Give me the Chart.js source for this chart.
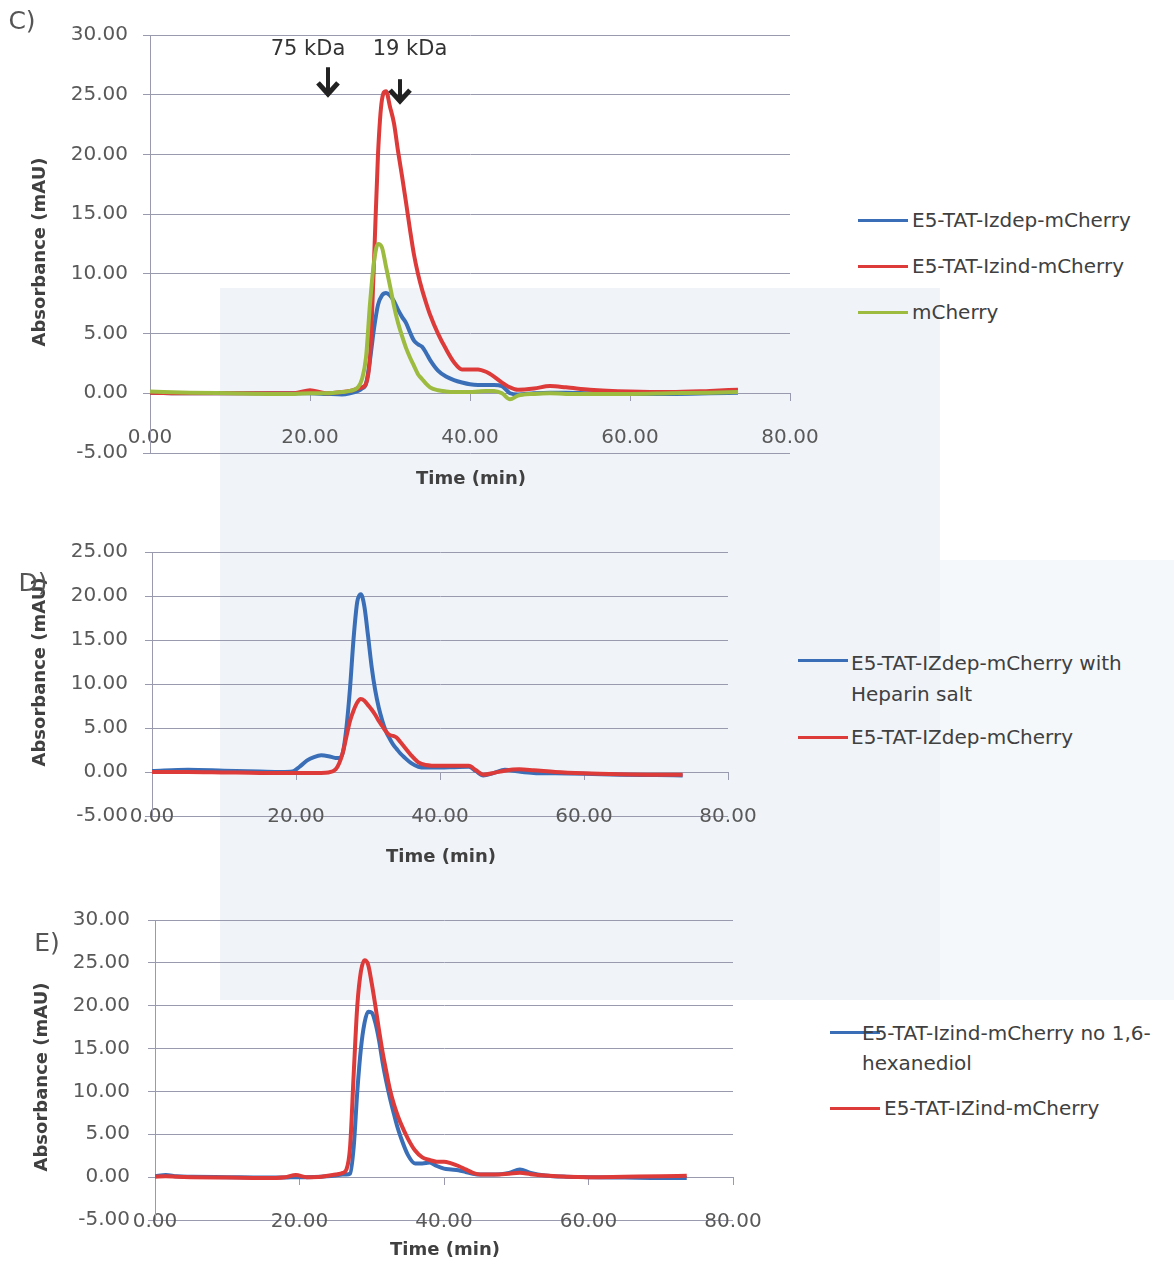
<!DOCTYPE html>
<html>
<head>
<meta charset="utf-8">
<title>Size exclusion chromatograms</title>
<script src="https://cdn.jsdelivr.net/npm/chart.js@4.4.1/dist/chart.umd.min.js"></script>
<style>
  body { margin: 0; background: #fff; width: 1174px; height: 1262px; position: relative; overflow: hidden; font-family: "DejaVu Sans", sans-serif; }
  canvas { position: absolute; left: 0; }
  .tint { position: absolute; }
  .key { position: absolute; height: 3px; width: 50px; }
  .lbl { position: absolute; font-size: 20px; line-height: 24px; color: #404040; white-space: nowrap; }
  .txt { position: absolute; white-space: nowrap; transform: translate(-50%, -50%); }
  .axt { font-weight: bold; font-size: 18px; color: #404040; }
  .rot { transform: translate(-50%, -50%) rotate(-90deg); }
  .panel { font-size: 25px; color: #555; }
  .kda { font-size: 21px; color: #333; }
</style>
</head>
<body>

<!-- faint scan tint behind the lower panels -->
<div class="tint" style="left:220px; top:288px; width:720px; height:712px; background:#f0f4f9;"></div>
<div class="tint" style="left:940px; top:560px; width:234px; height:440px; background:#f5f8fb;"></div>

<canvas id="chartC" width="830" height="480" style="top:0px;"></canvas>
<canvas id="chartD" width="770" height="345" style="top:500px;"></canvas>
<canvas id="chartE" width="775" height="370" style="top:880px;"></canvas>

<!-- panel C text -->
<div class="txt panel" style="left:22px; top:20px;">C)</div>
<div class="txt kda" style="left:308px; top:48px;">75 kDa</div>
<div class="txt kda" style="left:410px; top:48px;">19 kDa</div>
<div class="txt axt" style="left:471px; top:477px;">Time (min)</div>
<div class="txt axt rot" style="left:38px; top:252px;">Absorbance (mAU)</div>

<div class="key" style="left:858px; top:219px; background:#3a6fb7;"></div>
<div class="lbl" style="left:912px; top:208px;">E5-TAT-Izdep-mCherry</div>
<div class="key" style="left:858px; top:265px; background:#dd3a3a;"></div>
<div class="lbl" style="left:912px; top:254px;">E5-TAT-Izind-mCherry</div>
<div class="key" style="left:858px; top:311px; background:#9cbb3f;"></div>
<div class="lbl" style="left:912px; top:300px;">mCherry</div>

<!-- panel D text -->
<div class="txt axt" style="left:441px; top:855px;">Time (min)</div>
<div class="txt axt rot" style="left:38px; top:672px;">Absorbance (mAU)</div>
<div class="txt panel" style="left:33px; top:582px;">D)</div>

<div class="key" style="left:798px; top:659px; background:#3a6fb7;"></div>
<div class="lbl" style="left:851px; top:648px; line-height:31px;">E5-TAT-IZdep-mCherry with<br>Heparin salt</div>
<div class="key" style="left:798px; top:736px; background:#dd3a3a;"></div>
<div class="lbl" style="left:851px; top:725px;">E5-TAT-IZdep-mCherry</div>

<!-- panel E text -->
<div class="txt axt" style="left:445px; top:1248px;">Time (min)</div>
<div class="txt axt rot" style="left:40px; top:1077px;">Absorbance (mAU)</div>
<div class="txt panel" style="left:47px; top:942px;">E)</div>

<div class="key" style="left:830px; top:1031px; background:#3a6fb7;"></div>
<div class="lbl" style="left:862px; top:1018px; line-height:30px;">E5-TAT-Izind-mCherry no 1,6-<br>hexanediol</div>
<div class="key" style="left:830px; top:1107px; background:#dd3a3a;"></div>
<div class="lbl" style="left:884px; top:1096px;">E5-TAT-IZind-mCherry</div>

<script>
// Chromatogram traces (time in min, absorbance in mAU)

// Panel C
const timeC = [0, 5, 10, 15, 18, 20, 22, 24, 25, 26, 26.5, 27, 27.5, 28, 28.5, 29, 29.5, 30, 30.5, 31,
    31.5, 32, 32.5, 33, 33.5, 34, 34.5, 35, 36, 37, 38, 39, 40, 41, 42, 43, 44, 45, 46, 48,
    50, 52, 55, 60, 65, 70, 73.5];
const izdepC = [0.05, 0, 0, 0, 0, 0, -0.05, -0.1, 0, 0.2, 0.4, 0.8, 2.8, 5.4, 7.4, 8.2, 8.4, 8.2, 7.7, 7.0,
    6.4, 5.9, 5.1, 4.4, 4.1, 3.9, 3.4, 2.8, 1.9, 1.4, 1.1, 0.9, 0.75, 0.7, 0.7, 0.7, 0.6, 0.0, -0.1, 0,
    0.05, 0.05, 0, -0.05, -0.05, 0, 0.05];
const izindC = [0.05, 0, 0, 0, 0, 0.25, 0, 0.1, 0.2, 0.4, 0.5, 0.8, 3.0, 11.0, 20.0, 24.6, 25.3, 24.0, 22.6, 20.3,
    18.2, 16.0, 13.7, 11.6, 10.0, 8.7, 7.6, 6.6, 5.0, 3.7, 2.6, 2.0, 2.0, 2.0, 1.8, 1.4, 0.9, 0.5, 0.3, 0.4,
    0.6, 0.5, 0.3, 0.15, 0.1, 0.2, 0.3];
const mcherryC = [0.15, 0.05, 0, -0.05, -0.05, 0, 0, 0.1, 0.2, 0.5, 1.2, 3.0, 7.5, 11.0, 12.5, 12.2, 10.6, 9.0, 7.3, 5.9,
    4.8, 3.8, 3.0, 2.3, 1.6, 1.2, 0.8, 0.5, 0.25, 0.15, 0.1, 0.1, 0.1, 0.15, 0.2, 0.2, 0.0, -0.5, -0.2, -0.05,
    0, -0.05, -0.05, -0.05, 0, 0.05, 0.1];
// size-marker arrows (time, arrow top, arrow tip)
const markerTime = [22.25, 31.25];
const markerTop = [27.3, 26.3];
const markerTip = [24.9, 24.3];

// Panel D
const timeD = [0, 5, 10, 15, 18, 19.5, 20.5, 21.5, 22.5, 23.5, 24.5, 25.5, 26, 26.5, 27, 27.5, 28, 28.5, 29, 29.5,
    30, 30.5, 31, 31.5, 32, 32.5, 33, 33.5, 34, 34.5, 35, 36, 37, 38, 40, 42, 44, 45, 46, 47.5,
    49, 51, 53, 56, 60, 65, 70, 73.7];
const heparinD = [0.1, 0.25, 0.15, 0.05, 0, 0.05, 0.6, 1.3, 1.7, 1.9, 1.8, 1.6, 1.6, 2.2, 5.0, 9.5, 15.2, 19.3, 20.2, 18.8,
    15.5, 12.0, 9.3, 7.3, 5.8, 4.6, 3.8, 3.1, 2.6, 2.1, 1.7, 1.0, 0.6, 0.5, 0.5, 0.55, 0.6, 0.1, -0.4, -0.1,
    0.25, 0.05, -0.1, -0.15, -0.2, -0.3, -0.35, -0.4];
const izdepD = [0, 0, -0.05, -0.1, -0.1, -0.1, -0.1, -0.1, -0.1, -0.1, -0.05, 0.3, 1.0, 2.2, 4.0, 5.8, 7.0, 7.9, 8.3, 8.1,
    7.6, 7.1, 6.5, 5.8, 5.2, 4.6, 4.2, 4.1, 3.9, 3.4, 2.9, 1.9, 1.1, 0.8, 0.7, 0.7, 0.7, 0.2, -0.3, -0.1,
    0.15, 0.3, 0.2, 0, -0.15, -0.25, -0.3, -0.3];

// Panel E
const timeE = [0, 1.5, 3, 5, 10, 15, 18, 19.5, 21, 23, 25, 26, 26.5, 27, 27.5, 28, 28.5, 29, 29.5, 30,
    30.5, 31, 31.5, 32, 32.5, 33, 33.5, 34, 35, 36, 37, 38, 39, 40, 41, 42, 43, 44, 45, 47,
    49, 50.5, 52, 54, 57, 60, 65, 70, 73.6];
const noHexE = [0.1, 0.25, 0.1, 0.05, 0, -0.05, -0.05, 0, 0, 0.05, 0.2, 0.3, 0.3, 0.4, 3.5, 10.0, 15.0, 18.0, 19.3, 19.2,
    18.0, 16.0, 13.4, 11.2, 9.3, 7.6, 6.0, 4.7, 2.6, 1.6, 1.6, 1.7, 1.3, 1.0, 0.9, 0.8, 0.6, 0.4, 0.3, 0.3,
    0.5, 0.9, 0.5, 0.2, 0.05, 0, -0.05, -0.1, -0.1];
const izindE = [0.05, 0.1, 0.05, 0, -0.05, -0.1, 0, 0.25, 0, 0.05, 0.3, 0.5, 0.9, 3.5, 12.0, 20.0, 24.0, 25.3, 24.8, 22.6,
    20.0, 17.2, 14.6, 12.4, 10.3, 8.7, 7.4, 6.3, 4.5, 3.1, 2.3, 2.0, 1.8, 1.8, 1.6, 1.3, 0.9, 0.5, 0.3, 0.3,
    0.4, 0.5, 0.35, 0.2, 0.05, 0, 0.05, 0.1, 0.15];

const BLUE = '#3a6fb7';
const RED = '#dd3a3a';
const GREEN = '#9cbb3f';
const GRID = '#9a9aae';
const TICK_TEXT = '#595959';

document.addEventListener('DOMContentLoaded', () => {
    buildChart('chartC', timeC, [
        { label: 'E5-TAT-Izdep-mCherry', values: izdepC, color: BLUE },
        { label: 'E5-TAT-Izind-mCherry', values: izindC, color: RED },
        { label: 'mCherry', values: mcherryC, color: GREEN }
    ], { yMax: 30, axisX: 150, tickPad: 15, padding: { left: 0, top: 35, right: 40, bottom: 23 } }, [markerPlugin]);

    buildChart('chartD', timeD, [
        { label: 'E5-TAT-IZdep-mCherry with Heparin salt', values: heparinD, color: BLUE },
        { label: 'E5-TAT-IZdep-mCherry', values: izdepD, color: RED }
    ], { yMax: 25, axisX: 152, tickPad: 17, padding: { left: 0, top: 52, right: 42, bottom: 25 } }, []);

    buildChart('chartE', timeE, [
        { label: 'E5-TAT-Izind-mCherry no 1,6-hexanediol', values: noHexE, color: BLUE },
        { label: 'E5-TAT-IZind-mCherry', values: izindE, color: RED }
    ], { yMax: 30, axisX: 155, tickPad: 18, padding: { left: 0, top: 40, right: 42, bottom: 28 } }, []);
});

/**
 * Draw the two size-marker arrows on panel C
 */
const markerPlugin = {
    id: 'sizeMarkers',
    afterDatasetsDraw(chart) {
        const { ctx, scales: { x, y } } = chart;
        ctx.save();
        ctx.strokeStyle = '#222';
        markerTime.forEach((t, i) => {
            const px = x.getPixelForValue(t);
            const top = y.getPixelForValue(markerTop[i]);
            const tip = y.getPixelForValue(markerTip[i]);
            ctx.lineWidth = 4;
            ctx.beginPath();
            ctx.moveTo(px, top);
            ctx.lineTo(px, tip - 3);
            ctx.stroke();
            ctx.lineWidth = 5;
            ctx.lineJoin = 'miter';
            ctx.beginPath();
            ctx.moveTo(px - 10, tip - 13);
            ctx.lineTo(px, tip - 2);
            ctx.lineTo(px + 10, tip - 13);
            ctx.stroke();
        });
        ctx.restore();
    }
};

/**
 * Build one chromatogram panel
 */
function buildChart(canvasId, times, series, opts, plugins) {
    const tickFont = { family: 'DejaVu Sans', size: 20 };
    const n = series.length;

    return new Chart(document.getElementById(canvasId), {
        type: 'line',
        data: {
            datasets: series.map((s, i) => ({
                label: s.label,
                data: times.map((t, j) => ({ x: t, y: s.values[j] })),
                borderColor: s.color,
                borderWidth: 4,
                pointRadius: 0,
                fill: false,
                cubicInterpolationMode: 'monotone',
                order: n - i
            }))
        },
        options: {
            responsive: false,
            animation: false,
            events: [],
            layout: { padding: opts.padding },
            plugins: {
                legend: { display: false },
                tooltip: { enabled: false }
            },
            scales: {
                x: {
                    type: 'linear',
                    position: { y: 0 },
                    min: 0,
                    max: 80,
                    ticks: {
                        stepSize: 20,
                        padding: 26,
                        maxRotation: 0,
                        color: TICK_TEXT,
                        font: tickFont,
                        callback: v => v.toFixed(2)
                    },
                    grid: { drawOnChartArea: false, drawTicks: true, tickLength: 7, color: GRID },
                    border: { display: true, color: GRID, width: 1 },
                    afterFit: scale => { scale.paddingLeft = 0; scale.paddingRight = 0; }
                },
                y: {
                    min: -5,
                    max: opts.yMax,
                    ticks: {
                        stepSize: 5,
                        padding: opts.tickPad,
                        color: TICK_TEXT,
                        font: tickFont,
                        callback: v => v.toFixed(2)
                    },
                    grid: { color: GRID, lineWidth: 1, tickLength: 7 },
                    border: { display: true, color: GRID, width: 1 },
                    afterFit: scale => { scale.width = opts.axisX; }
                }
            }
        },
        plugins: plugins
    });
}
</script>
</body>
</html>
